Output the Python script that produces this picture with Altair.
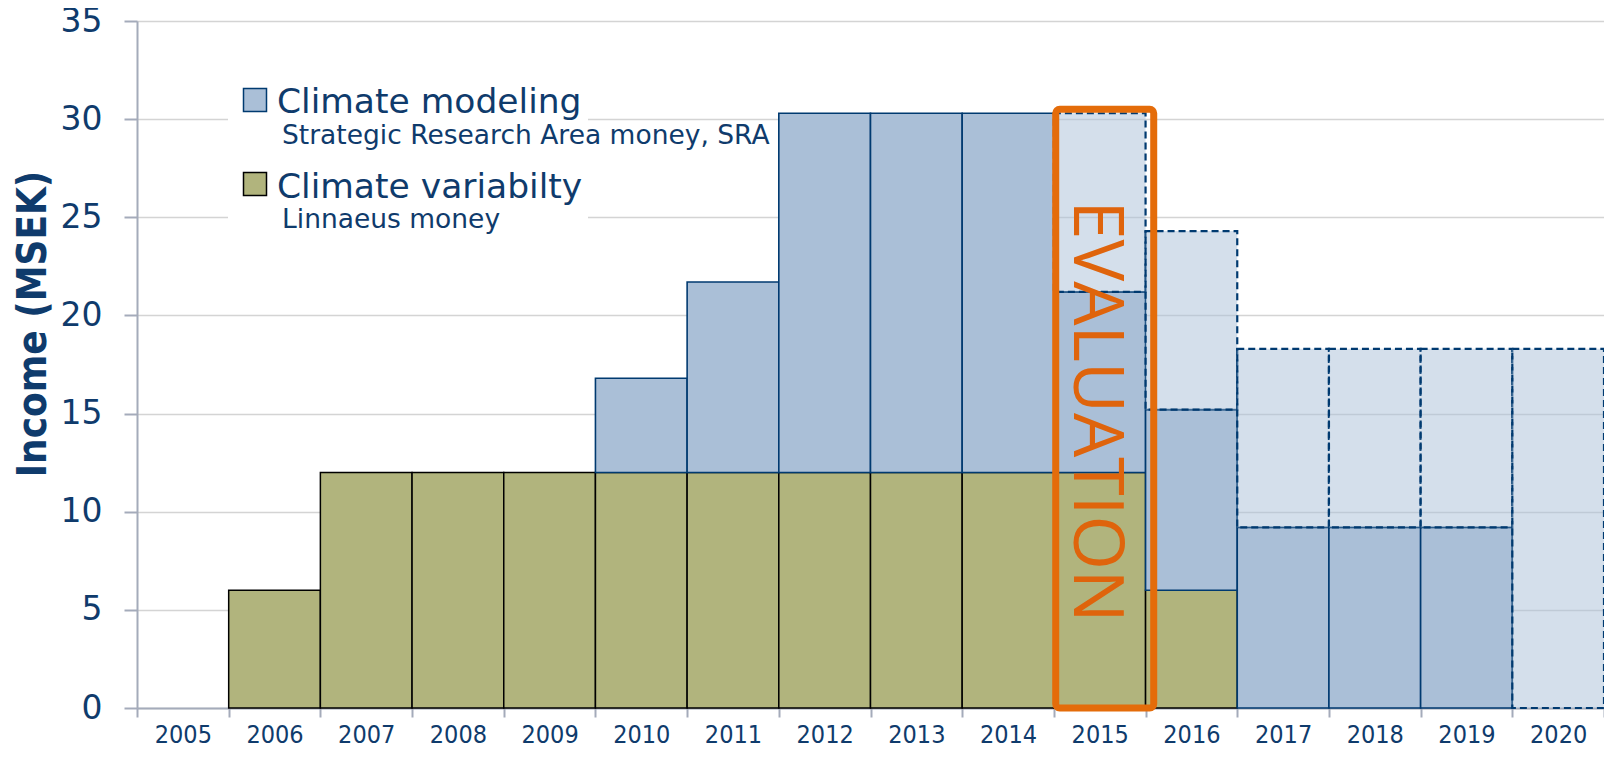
import altair as alt
import pandas as pd

# ---- data ----
years_all = [str(y) for y in range(2005, 2021)]

var_years = ["2006", "2007", "2008", "2009", "2010", "2011", "2012", "2013", "2014", "2015", "2016"]
var_top = [6.0, 12.0, 12.0, 12.0, 12.0, 12.0, 12.0, 12.0, 12.0, 12.0, 6.0]

mod_years = ["2010", "2011", "2012", "2013", "2014", "2015", "2016", "2017", "2018", "2019"]
mod_top = [16.8, 21.7, 30.3, 30.3, 30.3, 21.2, 15.2, 9.2, 9.2, 9.2]

proj_years = ["2015", "2016", "2017", "2018", "2019", "2020"]
proj_top = [30.3, 24.3, 18.3, 18.3, 18.3, 18.3]

y_ticks = [0, 5, 10, 15, 20, 25, 30, 35]

eval_year = ["2015"]
eval_top = [30.5]
eval_mid = [15.0]

# ---- build tables ----
var_map = dict(zip(var_years, var_top))
mod_map = dict(zip(mod_years, mod_top))

var_df = pd.DataFrame({"year": var_years, "lo": [0.0] * len(var_years), "hi": var_top})
mod_df = pd.DataFrame({"year": mod_years,
                       "lo": [var_map.get(y, 0.0) for y in mod_years],
                       "hi": mod_top})
proj_df = pd.DataFrame({"year": proj_years,
                        "lo": [mod_map.get(y, var_map.get(y, 0.0)) for y in proj_years],
                        "hi": proj_top})
eval_df = pd.DataFrame({"year": eval_year, "lo": [0.0], "hi": eval_top, "mid": eval_mid, "t": ["EVALUATION"]})

NAVY_TEXT = "#0F3B6C"
BLUE_FILL = "#AABFD7"
NAVY = "#003A70"
OLIVE = "#B1B47D"
ORANGE = "#E46C0A"
GRID = "#D4D4D4"
AXIS = "#A4ABBA"
COND = "DejaVu Sans Condensed"
SANS = "DejaVu Sans"

W, H = 1467, 687

xscale = alt.Scale(domain=years_all, paddingInner=0, paddingOuter=0)
yscale = alt.Scale(domain=[0, 35], nice=False, zero=True)

xax = alt.Axis(title=None, tickBand="extent", tickSize=9, tickColor=AXIS, tickWidth=2,
               domainColor=AXIS, domainWidth=2, labelFont=COND, labelFontSize=25,
               labelColor=NAVY_TEXT, labelPadding=5, grid=False, labelAngle=0)
yax = alt.Axis(title=None, values=y_ticks, tickSize=13, tickColor=AXIS, tickWidth=2,
               domainColor=AXIS, domainWidth=2, labelFont=SANS, labelFontSize=33,
               labelColor=NAVY_TEXT, labelPadding=22, grid=True, gridColor=GRID,
               gridWidth=1.5)

X = alt.X("year:N", scale=xscale, axis=xax)
Y = alt.Y("lo:Q", scale=yscale, axis=yax)
Y2 = alt.Y2("hi:Q")

# white mask behind the legend (hides gridlines there)
mask_df = pd.DataFrame({"lo": [24.0], "hi": [31.5]})
mask = alt.Chart(mask_df).mark_rect(color="white").encode(
    x=alt.value(91), x2=alt.value(451), y=Y, y2=Y2)

var_bars = alt.Chart(var_df).mark_bar(fill=OLIVE, stroke="black", strokeWidth=1.5).encode(
    x=X, y=Y, y2=Y2)
mod_bars = alt.Chart(mod_df).mark_bar(fill=BLUE_FILL, stroke=NAVY, strokeWidth=1.6).encode(
    x=X, y=Y, y2=Y2)
proj_bars = alt.Chart(proj_df).mark_bar(fill=BLUE_FILL, fillOpacity=0.5, stroke=NAVY,
                                        strokeWidth=2.2, strokeDash=[7, 4]).encode(
    x=X, y=Y, y2=Y2)

eval_box = alt.Chart(eval_df).mark_bar(filled=False, fillOpacity=0, stroke=ORANGE, strokeWidth=7,
                                       cornerRadius=4, width=98, xOffset=5).encode(
    x=X, y=Y, y2=Y2)
eval_text = alt.Chart(eval_df).mark_text(angle=90, font="Open Sans", fontSize=70, fontWeight="normal",
                                         color="#DF640C", align="center", baseline="middle",
                                         dx=-2, dy=5).encode(
    x=X, y=alt.Y("mid:Q", scale=yscale, axis=yax), text="t:N")


def label(txt, x, y, size, font=SANS, weight="normal", angle=0, align="left", color=NAVY_TEXT,
          baseline="alphabetic"):
    return alt.Chart(pd.DataFrame({"t": [txt]})).mark_text(
        font=font, fontSize=size, fontWeight=weight, angle=angle, align=align,
        baseline=baseline, color=color).encode(x=alt.value(x), y=alt.value(y), text="t:N")


def square(x, y, fill, stroke):
    return alt.Chart(pd.DataFrame({"t": [""]})).mark_point(
        shape="square", size=529, filled=True, fill=fill, stroke=stroke, strokeWidth=1.5,
        opacity=1).encode(x=alt.value(x), y=alt.value(y))


legend_layers = [
    square(118, 79, BLUE_FILL, NAVY),
    label("Climate modeling", 140, 92, 34.5),
    label("Strategic Research Area money, SRA", 145, 123, 26.5),
    square(118, 163, OLIVE, "black"),
    label("Climate variabilty", 140, 177, 34.5),
    label("Linnaeus money", 145, 207, 26.5),
]

ytitle = label("Income (MSEK)", -91, 303, 40, font=COND, weight="bold", angle=270, align="center")

chart = alt.layer(
    mask, var_bars, mod_bars, proj_bars, eval_box, eval_text, *legend_layers, ytitle
).properties(
    width=W, height=H,
    autosize=alt.AutoSizeParams(type="none"),
    padding={"left": 129, "top": 13, "right": 0, "bottom": 44},
).configure_view(stroke=None).configure(background="white")

chart.save("out.html", embed_options={"renderer": "svg", "actions": False})
